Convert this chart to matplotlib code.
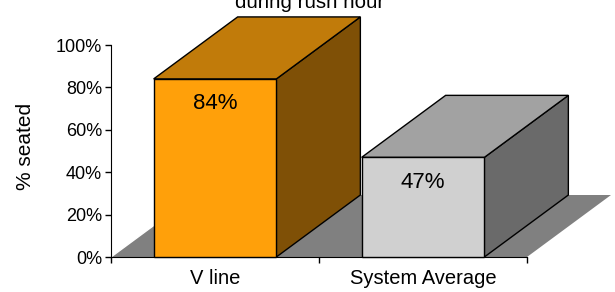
import matplotlib
matplotlib.use('Agg')
import matplotlib.pyplot as plt
from matplotlib.patches import Polygon

plt.rcParams['font.family'] = ['Liberation Sans', 'DejaVu Sans']

# data
categories = ['V line', 'System Average']
seated = [84, 47]
value_labels = ['84%', '47%']
yticks = [0, 20, 40, 60, 80, 100]
ytick_labels = ['0%', '20%', '40%', '60%', '80%', '100%']

# colours of the 3d faces
front_colors = ['#FFA00A', '#D0D0D0']
top_colors = ['#C17B0A', '#A2A2A2']
side_colors = ['#7F5006', '#6A6A6A']
floor_color = '#808080'

W, H = 615, 292
fig = plt.figure(figsize=(W / 100, H / 100), dpi=100)

# axes box in pixels (left, right, top, bottom)
ax_l, ax_r, ax_t, ax_b = 111, 527, 45, 257
ax = fig.add_axes([ax_l / W, (H - ax_b) / H, (ax_r - ax_l) / W, (ax_b - ax_t) / H])
ax.set_xlim(0, len(categories))
ax.set_ylim(0, 100)

# depth of the fake 3d, pixels -> data units
ddx = 84 / (ax_r - ax_l) * len(categories)
ddy = 62 / (ax_b - ax_t) * 100
bar_w = 0.59

# floor
n = len(categories)
floor = Polygon([(0, 0), (n, 0), (n + ddx, ddy), (ddx, ddy)],
                closed=True, fc=floor_color, ec='none', clip_on=False, zorder=1)
ax.add_patch(floor)
ax.plot([0, ddx], [0, ddy], color='white', lw=1, clip_on=False, zorder=1.5)

for i, v in enumerate(seated):
    x0 = i + 0.5 - bar_w / 2
    x1 = i + 0.5 + bar_w / 2
    front = Polygon([(x0, 0), (x1, 0), (x1, v), (x0, v)], closed=True,
                    fc=front_colors[i], ec='black', lw=1, clip_on=False, zorder=3)
    top = Polygon([(x0, v), (x1, v), (x1 + ddx, v + ddy), (x0 + ddx, v + ddy)], closed=True,
                  fc=top_colors[i], ec='black', lw=1, clip_on=False, zorder=3)
    side = Polygon([(x1, 0), (x1 + ddx, ddy), (x1 + ddx, v + ddy), (x1, v)], closed=True,
                   fc=side_colors[i], ec='black', lw=1, clip_on=False, zorder=3)
    for p in (side, top, front):
        ax.add_patch(p)
    ax.annotate(value_labels[i], (i + 0.5, v), xytext=(0, -25 * 0.72), textcoords='offset points',
                ha='center', va='center', fontsize=16, zorder=4)

# axes styling
for s in ('top', 'right'):
    ax.spines[s].set_visible(False)
ax.spines['left'].set_zorder(2)
ax.spines['bottom'].set_zorder(2)
ax.set_yticks(yticks)
ax.set_yticklabels(ytick_labels, fontsize=13)
ax.tick_params(axis='y', direction='out', length=4.3, width=1, pad=2)
ax.set_xticks(range(n + 1))
ax.set_xticklabels([])
ax.tick_params(axis='x', which='major', direction='out', length=4, width=1)
ax.set_xticks([i + 0.5 for i in range(n)], minor=True)
ax.set_xticklabels(categories, minor=True, fontsize=14.5)
ax.tick_params(axis='x', which='minor', length=0, pad=8.5)

fig.text(26 / W, 1 - 146.5 / H, '% seated', rotation=90, ha='center', va='center', fontsize=15)
fig.text(310 / W, 1 - 8 / H, 'during rush hour', ha='center', va='baseline', fontsize=14.8)

fig.savefig('out.png', dpi=100)
